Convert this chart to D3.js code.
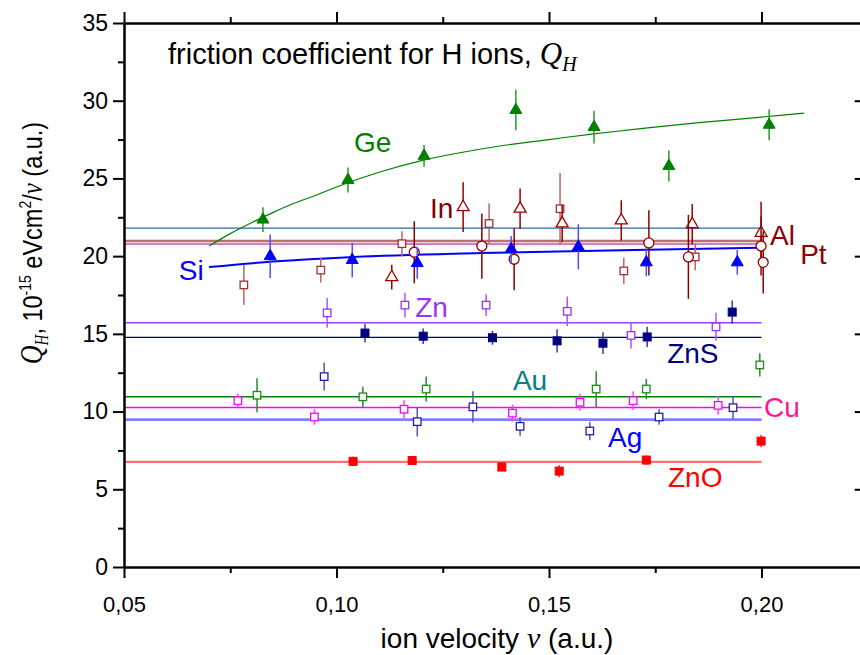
<!DOCTYPE html>
<html><head><meta charset="utf-8">
<script src="https://cdn.jsdelivr.net/npm/d3@7"></script>
<style>body{margin:0;background:#fff} svg{display:block}</style>
</head><body><svg id="c" width="860" height="655"></svg>
<script>
// ---------- data ----------
const xMajorTicks = [0.05, 0.10, 0.15, 0.20];
const xMajorLabels = ["0,05", "0,10", "0,15", "0,20"];
const xMinorTicks = [0.075, 0.125, 0.175];
const yMajorTicks = [0, 5, 10, 15, 20, 25, 30, 35];
const yMajorLabels = ["0", "5", "10", "15", "20", "25", "30", "35"];
const yMinorTicks = [2.5, 7.5, 12.5, 17.5, 22.5, 27.5, 32.5];

const geV = [0.0827, 0.1027, 0.1206, 0.1422, 0.1606, 0.1782, 0.2018];
const geQ = [22.35, 24.9, 26.45, 29.4, 28.3, 25.8, 28.45];
const geE = [0.8, 0.8, 0.7, 1.3, 1.05, 1.0, 1.0];

const siV = [0.0844, 0.1037, 0.1190, 0.1411, 0.1569, 0.1729, 0.1943];
const siQ = [20.0, 19.75, 19.55, 20.45, 20.6, 19.6, 19.6];
const siE = [1.4, 1.1, 1.0, 0.85, 1.45, 0.9, 0.8];

const inV = [0.1130, 0.1298, 0.1432, 0.1531, 0.1670, 0.1837, 0.1999];
const inQ = [18.65, 23.15, 23.05, 22.1, 22.3, 22.05, 21.5];
const inE = [0.8, 1.6, 1.3, 1.2, 1.3, 1.3, 2.0];

const alV = [0.0782, 0.0963, 0.1154, 0.1359, 0.1526, 0.1676, 0.1844];
const alQ = [18.15, 19.1, 20.8, 22.1, 23.05, 19.05, 19.95];
const alE = [1.3, 0.8, 0.8, 1.3, 2.3, 0.85, 0.85];

const ptV = [0.1183, 0.1342, 0.1418, 0.1735, 0.1828, 0.1999, 0.2004];
const ptQ = [20.25, 20.65, 19.8, 20.85, 19.95, 20.65, 19.6];
const ptE = [2.0, 2.1, 2.0, 2.1, 2.7, 1.9, 2.0];

const znV = [0.0978, 0.1161, 0.1352, 0.1543, 0.1693, 0.1893];
const znQ = [16.35, 16.85, 16.85, 16.45, 14.9, 15.45];
const znE = [0.95, 0.8, 0.7, 0.95, 0.85, 0.9];

const znsV = [0.1067, 0.1204, 0.1367, 0.1519, 0.1627, 0.1731, 0.1931];
const znsQ = [15.05, 14.85, 14.75, 14.55, 14.4, 14.8, 16.4];
const znsE = [0.6, 0.5, 0.45, 0.75, 0.7, 0.65, 0.75];

const auV = [0.0813, 0.1062, 0.1211, 0.1611, 0.1729, 0.1996];
const auQ = [11.05, 10.95, 11.45, 11.45, 11.45, 13.0];
const auE = [1.1, 0.65, 0.8, 1.15, 0.65, 0.75];

const cuV = [0.0768, 0.0948, 0.1159, 0.1414, 0.1573, 0.1698, 0.1898];
const cuQ = [10.7, 9.65, 10.15, 9.9, 10.6, 10.7, 10.4];
const cuE = [0.45, 0.5, 0.6, 0.55, 0.55, 0.6, 0.6];

const agV = [0.0971, 0.1190, 0.1321, 0.1432, 0.1596, 0.1759, 0.1933];
const agQ = [12.25, 9.35, 10.3, 9.05, 8.75, 9.65, 10.25];
const agE = [0.9, 0.95, 1.0, 0.6, 0.6, 0.5, 0.75];

const znoV = [0.1039, 0.1178, 0.1389, 0.1524, 0.1729, 0.1999];
const znoQ = [6.8, 6.85, 6.43, 6.17, 6.88, 8.1];
const znoE = [0.3, 0.25, 0.25, 0.4, 0.3, 0.4];

const geFitV = [0.070, 0.075, 0.080, 0.085, 0.090, 0.095, 0.100, 0.110, 0.120, 0.130, 0.140, 0.150, 0.160, 0.170, 0.180, 0.190, 0.200, 0.210];
const geFitQ = [20.65, 21.45, 22.15, 22.8, 23.4, 23.9, 24.45, 25.4, 26.15, 26.7, 27.15, 27.5, 27.85, 28.15, 28.45, 28.7, 28.95, 29.2];
const siFitV = [0.070, 0.085, 0.104, 0.134, 0.170, 0.200];
const siFitQ = [19.3, 19.65, 19.95, 20.2, 20.4, 20.55];

const levelV = [0.05, 0.20];
const levelQ = [21.8, 20.97, 20.78, 15.72, 14.78, 10.96, 10.27, 9.48, 6.76];

const labelNames = ["Ge", "In", "Al", "Pt", "Si", "Zn", "ZnS", "Au", "Cu", "Ag", "ZnO"];
const labelV = [0.1041, 0.1220, 0.2020, 0.2091, 0.0629, 0.1185, 0.1778, 0.1415, 0.2006, 0.1639, 0.1780];
const labelQ = [26.7, 22.45, 20.72, 19.49, 18.47, 16.08, 13.125, 11.39, 9.65, 7.72, 5.15];

// ---------- layout ----------
const svg = d3.select("#c");
const x = d3.scaleLinear().domain([0.05, 0.225]).range([124, 867.75]);
const y = d3.scaleLinear().domain([0, 35]).range([567, 23]);
const SANS = "'Liberation Sans', Arial, sans-serif";
const SERIF = "'Liberation Serif', 'Times New Roman', serif";

// horizontal levels
const levelStyle = [
  {c: "#2a6aa8", w: 1.2}, {c: "#b87272", w: 2.6}, {c: "#c050c0", w: 1.4},
  {c: "#a040ff", w: 1.5}, {c: "#000080", w: 1.2}, {c: "#008000", w: 1.5},
  {c: "#ff00ff", w: 1.5}, {c: "#8080ff", w: 2.6}, {c: "#ff7070", w: 2.2}
];
const line = d3.line().x(d => x(d[0])).y(d => y(d[1]));
levelQ.forEach((q, i) => {
  svg.append("path").attr("d", line(levelV.map(v => [v, q])))
    .attr("fill", "none").attr("stroke", levelStyle[i].c).attr("stroke-width", levelStyle[i].w);
});
// fits
const curve = d3.line().x(d => x(d[0])).y(d => y(d[1])).curve(d3.curveMonotoneX);
svg.append("path").attr("d", curve(geFitV.map((v, i) => [v, geFitQ[i]])))
  .attr("fill", "none").attr("stroke", "#008000").attr("stroke-width", 1.2);
svg.append("path").attr("d", curve(siFitV.map((v, i) => [v, siFitQ[i]])))
  .attr("fill", "none").attr("stroke", "#0000ff").attr("stroke-width", 2);

// series
const series = [
  {v: alV, q: alQ, e: alE, m: "square", c: "#a83030", ec: "#bb6666", fill: "#fff"},
  {v: inV, q: inQ, e: inE, m: "triangle", c: "#9a0000", ec: "#9a0000", fill: "#fff"},
  {v: ptV, q: ptQ, e: ptE, m: "circle", c: "#8b0000", ec: "#8b0000", fill: "#fff"},
  {v: siV, q: siQ, e: siE, m: "triangle", c: "#0000ff", ec: "#4d4dff", fill: "#0000ff"},
  {v: geV, q: geQ, e: geE, m: "triangle", c: "#008000", ec: "#2a9a2a", fill: "#008000"},
  {v: znV, q: znQ, e: znE, m: "square", c: "#9933ff", ec: "#a855ff", fill: "#fff"},
  {v: znsV, q: znsQ, e: znsE, m: "square", c: "#000080", ec: "#3a3a9a", fill: "#000080"},
  {v: auV, q: auQ, e: auE, m: "square", c: "#1a8a1a", ec: "#2a8a2a", fill: "#fff"},
  {v: cuV, q: cuQ, e: cuE, m: "square", c: "#ff00ff", ec: "#ff44ff", fill: "#fff"},
  {v: agV, q: agQ, e: agE, m: "square", c: "#2222a0", ec: "#5555bb", fill: "#fff"},
  {v: znoV, q: znoQ, e: znoE, m: "square", c: "#ff0000", ec: "#ff3333", fill: "#ff0000"}
];
const tri = d3.symbol().type(d3.symbolTriangle).size(62);
series.forEach(s => {
  const g = svg.append("g");
  const pts = s.v.map((v, i) => ({v, q: s.q[i], e: s.e[i]}));
  g.selectAll("line.eb").data(pts).join("line")
    .attr("x1", d => x(d.v)).attr("x2", d => x(d.v))
    .attr("y1", d => y(d.q - d.e)).attr("y2", d => y(d.q + d.e))
    .attr("stroke", s.ec).attr("stroke-width", 1.5);
  const sw = s.fill === "#fff" ? 1.3 : 1;
  if (s.m === "square") {
    const sz = s.fill === "#fff" ? 7.5 : 8;
    g.selectAll("rect").data(pts).join("rect")
      .attr("x", d => x(d.v) - sz / 2).attr("y", d => y(d.q) - sz / 2)
      .attr("width", sz).attr("height", sz)
      .attr("fill", s.fill).attr("stroke", s.c).attr("stroke-width", sw);
  } else if (s.m === "circle") {
    g.selectAll("circle").data(pts).join("circle")
      .attr("cx", d => x(d.v)).attr("cy", d => y(d.q)).attr("r", 5)
      .attr("fill", s.fill).attr("stroke", s.c).attr("stroke-width", sw);
  } else {
    g.selectAll("path").data(pts).join("path")
      .attr("d", tri).attr("transform", d => `translate(${x(d.v)},${y(d.q)})`)
      .attr("fill", s.fill).attr("stroke", s.c).attr("stroke-width", sw);
  }
});

// axes
function styleAxis(fs) {
  return g => {
    g.select(".domain").attr("stroke", "#000").attr("stroke-width", 2.5);
    g.selectAll(".tick line").attr("stroke", "#000").attr("stroke-width", 2);
    g.selectAll(".tick text").attr("font-family", SANS).attr("font-size", fs).attr("fill", "#000");
  };
}
svg.append("g").attr("transform", "translate(0,567)")
  .call(d3.axisBottom(x).tickValues(xMinorTicks).tickSize(6).tickSizeOuter(0).tickFormat(""))
  .call(styleAxis(22));
svg.append("g").attr("transform", "translate(0,567)")
  .call(d3.axisBottom(x).tickValues(xMajorTicks).tickSize(11).tickSizeOuter(0).tickPadding(18)
    .tickFormat((d, i) => xMajorLabels[i]))
  .call(styleAxis(22)).call(g => g.select(".domain").remove());
svg.append("g").attr("transform", "translate(0,23)")
  .call(d3.axisTop(x).tickValues(xMinorTicks).tickSize(6).tickSizeOuter(0).tickFormat(""))
  .call(styleAxis(22));
svg.append("g").attr("transform", "translate(0,23)")
  .call(d3.axisTop(x).tickValues(xMajorTicks).tickSize(11).tickSizeOuter(0).tickFormat(""))
  .call(styleAxis(22)).call(g => g.select(".domain").remove());
svg.append("g").attr("transform", "translate(124,0)")
  .call(d3.axisLeft(y).tickValues(yMinorTicks).tickSize(6).tickSizeOuter(0).tickFormat(""))
  .call(styleAxis(23));
svg.append("g").attr("transform", "translate(124,0)")
  .call(d3.axisLeft(y).tickValues(yMajorTicks).tickSize(11).tickSizeOuter(0).tickPadding(5)
    .tickFormat((d, i) => yMajorLabels[i]))
  .call(styleAxis(23)).call(g => g.select(".domain").remove());
svg.append("g").attr("transform", `translate(${x(0.225)},0)`)
  .call(d3.axisRight(y).tickValues(yMajorTicks.slice(1, 7)).tickSize(-13).tickSizeOuter(0).tickFormat(""))
  .call(styleAxis(23)).call(g => g.select(".domain").remove());

// element labels
const labelColors = ["#008000", "#8b0000", "#8b0000", "#8b0000", "#0000ff", "#9933ff",
  "#000080", "#008080", "#ff1493", "#0000ff", "#ff0000"];
labelNames.forEach((n, i) => {
  svg.append("text").attr("x", x(labelV[i])).attr("y", y(labelQ[i]))
    .attr("font-family", SANS).attr("font-size", 28).attr("fill", labelColors[i]).text(n);
});

// title
const t = svg.append("text").attr("x", 168).attr("y", 64).attr("font-family", SANS)
  .attr("font-size", 29).attr("fill", "#000");
t.append("tspan").text("friction coefficient for H ions, ");
t.append("tspan").attr("font-family", SERIF).attr("font-style", "italic").attr("font-size", 31).text("Q");
t.append("tspan").attr("font-family", SERIF).attr("font-style", "italic").attr("font-size", 20).attr("dy", 7).text("H");

// x title
const xt = svg.append("text").attr("x", 497).attr("y", 648).attr("text-anchor", "middle")
  .attr("font-family", SANS).attr("font-size", 28).attr("fill", "#000");
xt.append("tspan").text("ion velocity ");
xt.append("tspan").attr("font-family", SERIF).attr("font-style", "italic").attr("font-size", 30).text("v");
xt.append("tspan").text(" (a.u.)");

// y title
const yt = svg.append("text").attr("transform", "translate(42,243) scale(1.2,1) rotate(-90)").attr("text-anchor", "middle")
  .attr("font-family", SANS).attr("font-size", 23.5).attr("fill", "#000");
yt.append("tspan").attr("font-family", SERIF).attr("font-style", "italic").attr("font-size", 26).text("Q");
yt.append("tspan").attr("font-family", SERIF).attr("font-style", "italic").attr("font-size", 15).attr("dy", 5).text("H");
yt.append("tspan").attr("dy", -5).text(", 10");
yt.append("tspan").attr("font-size", 14).attr("dy", -9).text("-15");
yt.append("tspan").attr("dy", 9).text(" eVcm");
yt.append("tspan").attr("font-size", 14).attr("dy", -9).text("2");
yt.append("tspan").attr("dy", 9).text("/");
yt.append("tspan").attr("font-family", SERIF).attr("font-style", "italic").attr("font-size", 25).text("v");
yt.append("tspan").text(" (a.u.)");
</script></body></html>
